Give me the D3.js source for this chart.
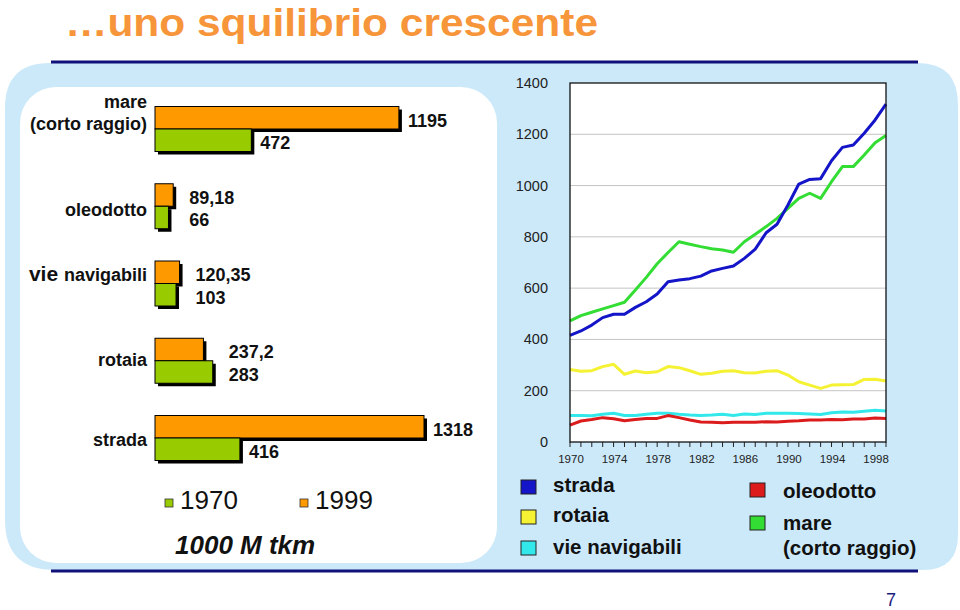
<!DOCTYPE html>
<html><head><meta charset="utf-8">
<script src="https://cdn.jsdelivr.net/npm/d3@7"></script>
<style>body{margin:0;background:#fff}svg{display:block;font-family:"Liberation Sans",Arial,sans-serif}</style>
</head><body>
<svg id="c" width="960" height="610"></svg>
<script>
// ---- data ----
const barCategories = ["mare|(corto raggio)", "oleodotto", "vie navigabili", "rotaia", "strada"];
const bar1970 = [472, 66, 103, 283, 416];
const bar1999 = [1195, 89.18, 120.35, 237.2, 1318];
const barYears = ["1970", "1999"];

const years = d3.range(1970, 2000);
const strada = [416,433,456,485,498,498,525,547,577,625,632,637,647,667,677,686,716,752,816,849,924,1006,1024,1027,1097,1149,1158,1204,1256,1318];
const mare = [472,493,506,519,532,545,593,642,695,739,781,771,762,754,749,740,781,810,840,872,911,950,970,950,1015,1074,1074,1119,1167,1195];
const rotaia = [283,276,278,294,303,264,277,270,274,294,290,278,264,268,276,278,270,269,276,278,261,235,222,209,222,223,224,244,245,238];
const vieNavigabili = [103,103,102,108,112,103,103,108,112,112,108,105,103,105,108,103,109,107,112,112,112,111,109,107,114,117,116,120,124,121];
const oleodotto = [66,82,88,95,91,83,88,92,92,103,95,86,78,77,75,77,77,77,79,78,81,83,86,86,88,87,90,90,94,92];
const yTicks = [0, 200, 400, 600, 800, 1000, 1200, 1400];
const xTickLabels = [1970, 1974, 1978, 1982, 1986, 1990, 1994, 1998];

const series = [
  {name: "rotaia", values: rotaia, color: "#f4f232"},
  {name: "vie navigabili", values: vieNavigabili, color: "#33e8ea"},
  {name: "oleodotto", values: oleodotto, color: "#dc1c1c"},
  {name: "mare", values: mare, color: "#33dd33"},
  {name: "strada", values: strada, color: "#1414c8"}
];

const svg = d3.select("#c");
const fmt = v => String(v).replace(".", ",");

// ---- title ----
svg.append("text").attr("x", 65).attr("y", 36)
  .attr("font-size", 39).attr("font-weight", "bold").attr("fill", "#f7953a")
  .attr("textLength", 533).attr("lengthAdjust", "spacingAndGlyphs")
  .text("\u2026uno squilibrio crescente");

// ---- panel ----
svg.append("path").attr("fill", "#cce9fa")
  .attr("d", "M5,108 Q5,63 50,63 L918,63 Q958,63 958,105 L958,535 Q958,570 923,570 L55,570 Q5,570 5,520 Z");
svg.append("rect").attr("x", 20).attr("y", 87).attr("width", 477).attr("height", 476)
  .attr("rx", 36).attr("fill", "#fff");
svg.append("rect").attr("x", 51).attr("y", 60.5).attr("width", 867).attr("height", 3).attr("fill", "#10107a");
svg.append("rect").attr("x", 51).attr("y", 569.5).attr("width", 867).attr("height", 3).attr("fill", "#10107a");

// ---- bar chart ----
const xb = d3.scaleLinear().domain([0, 1318]).range([155, 424]);
const yb = d3.scalePoint().domain(barCategories).range([129, 438]);
const bh = 22.5;
const barColors = {"1970": "#99cc00", "1999": "#ff9900"};
const gB = svg.append("g");
const bars = [];
barCategories.forEach((c, i) => {
  bars.push({cat: c, year: "1999", v: bar1999[i], y: yb(c) - bh});
  bars.push({cat: c, year: "1970", v: bar1970[i], y: yb(c)});
});
gB.selectAll("rect.sh").data(bars).join("rect")
  .attr("x", xb(0) + 3).attr("y", d => d.y + 3)
  .attr("width", d => xb(d.v) - xb(0)).attr("height", bh).attr("fill", "#000");
gB.selectAll("rect.b").data(bars).join("rect")
  .attr("x", xb(0)).attr("y", d => d.y)
  .attr("width", d => xb(d.v) - xb(0)).attr("height", bh)
  .attr("fill", d => barColors[d.year]).attr("stroke", "#000").attr("stroke-width", 1);

// value labels
barCategories.forEach((c, i) => {
  const small = Math.max(bar1970[i], bar1999[i]) < 400;
  const mx = xb(Math.max(bar1970[i], bar1999[i]));
  [["1999", bar1999[i], yb(c) - 2.5], ["1970", bar1970[i], yb(c) + 20]].forEach(([yr, v, ty]) => {
    const tx = small ? mx + 16 : xb(v) + 9;
    gB.append("text").attr("x", tx).attr("y", ty)
      .attr("font-size", 18).attr("font-weight", "bold").attr("fill", "#111")
      .text(fmt(v));
  });
});

// category labels
const catShift = {"oleodotto": 10, "rotaia": 5.5, "strada": 7.5};
barCategories.forEach(c => {
  const cy = yb(c);
  if (c.includes("|")) {
    const parts = c.split("|");
    svg.append("text").attr("x", 147).attr("y", cy - 21.5).attr("text-anchor", "end")
      .attr("font-size", 18).attr("font-weight", "bold").attr("fill", "#111").text(parts[0]);
    svg.append("text").attr("x", 147).attr("y", cy + 0.5).attr("text-anchor", "end")
      .attr("font-size", 18).attr("font-weight", "bold").attr("fill", "#111").text(parts[1]);
  } else if (c.startsWith("vie ")) {
    const t = svg.append("text").attr("x", 147).attr("y", cy - 2.5).attr("text-anchor", "end")
      .attr("font-weight", "bold").attr("fill", "#111");
    t.append("tspan").attr("font-size", 21).text("vie ");
    t.append("tspan").attr("font-size", 18).text(c.slice(4));
  } else {
    svg.append("text").attr("x", 147).attr("y", cy + catShift[c]).attr("text-anchor", "end")
      .attr("font-size", 18).attr("font-weight", "bold").attr("fill", "#111").text(c);
  }
});

// bar legend
const legB = [{yr: barYears[0], x: 165}, {yr: barYears[1], x: 300}];
legB.forEach(d => {
  svg.append("rect").attr("x", d.x).attr("y", 499).attr("width", 8).attr("height", 8)
    .attr("fill", barColors[d.yr]).attr("stroke", "#333").attr("stroke-width", 0.8);
  svg.append("text").attr("x", d.x + 15).attr("y", 509).attr("font-size", 26).attr("fill", "#111").text(d.yr);
});
svg.append("text").attr("x", 175).attr("y", 554).attr("font-size", 26)
  .attr("font-weight", "bold").attr("font-style", "italic").attr("fill", "#111").text("1000 M tkm");

// ---- line chart ----
const xl = d3.scaleLinear().domain([1970, 1999]).range([570, 886]);
const yl = d3.scaleLinear().domain([0, 1400]).range([442, 83]);
const gL = svg.append("g");
gL.append("rect").attr("x", 570).attr("y", 83).attr("width", 316).attr("height", 359).attr("fill", "#fff");
gL.selectAll("line.grid").data(yTicks.filter(t => t > 0 && t < 1400)).join("line")
  .attr("x1", 570).attr("x2", 886).attr("y1", d => yl(d)).attr("y2", d => yl(d))
  .attr("stroke", "#c4c4c4").attr("stroke-width", 1);
gL.selectAll("text.yt").data(yTicks).join("text")
  .attr("x", 548).attr("y", d => yl(d) + 5).attr("text-anchor", "end")
  .attr("font-size", 14.5).attr("fill", "#222").text(d => d);
gL.selectAll("line.xt").data(years).join("line")
  .attr("x1", d => xl(d)).attr("x2", d => xl(d)).attr("y1", 442).attr("y2", 447)
  .attr("stroke", "#222").attr("stroke-width", 1);
gL.selectAll("text.xt").data(xTickLabels).join("text")
  .attr("x", d => xl(d) + 1).attr("y", 463).attr("text-anchor", "middle")
  .attr("font-size", 11.5).attr("fill", "#222").text(d => d);

const line = d3.line().x((d, i) => xl(years[i])).y(d => yl(d));
gL.selectAll("path.s").data(series).join("path")
  .attr("d", d => line(d.values)).attr("fill", "none")
  .attr("stroke", d => d.color).attr("stroke-width", 3).attr("stroke-linejoin", "round");
gL.append("rect").attr("x", 570).attr("y", 83).attr("width", 316).attr("height", 359)
  .attr("fill", "none").attr("stroke", "#111").attr("stroke-width", 1.3);

// line legend
const legL = [
  {name: "strada", x: 521, y: 480, lines: ["strada"], ty: 492},
  {name: "rotaia", x: 521, y: 510, lines: ["rotaia"], ty: 522},
  {name: "vie navigabili", x: 521, y: 541, lines: ["vie navigabili"], ty: 554},
  {name: "oleodotto", x: 750, y: 483, lines: ["oleodotto"], ty: 498},
  {name: "mare", x: 750, y: 516, lines: ["mare", "(corto raggio)"], ty: 530}
];
legL.forEach(d => {
  const s = series.find(e => e.name === d.name);
  svg.append("rect").attr("x", d.x).attr("y", d.y).attr("width", 15).attr("height", 14)
    .attr("fill", s.color).attr("stroke", "#222").attr("stroke-width", 1);
  d.lines.forEach((t, k) => {
    svg.append("text").attr("x", d.x + (d.x > 700 ? 33 : 32)).attr("y", d.ty + k * 25)
      .attr("font-size", 20.5).attr("font-weight", "bold").attr("fill", "#111").text(t);
  });
});

// page number
svg.append("text").attr("x", 891).attr("y", 606).attr("text-anchor", "middle")
  .attr("font-size", 18).attr("fill", "#1a1a80").text("7");
</script>
</body></html>
